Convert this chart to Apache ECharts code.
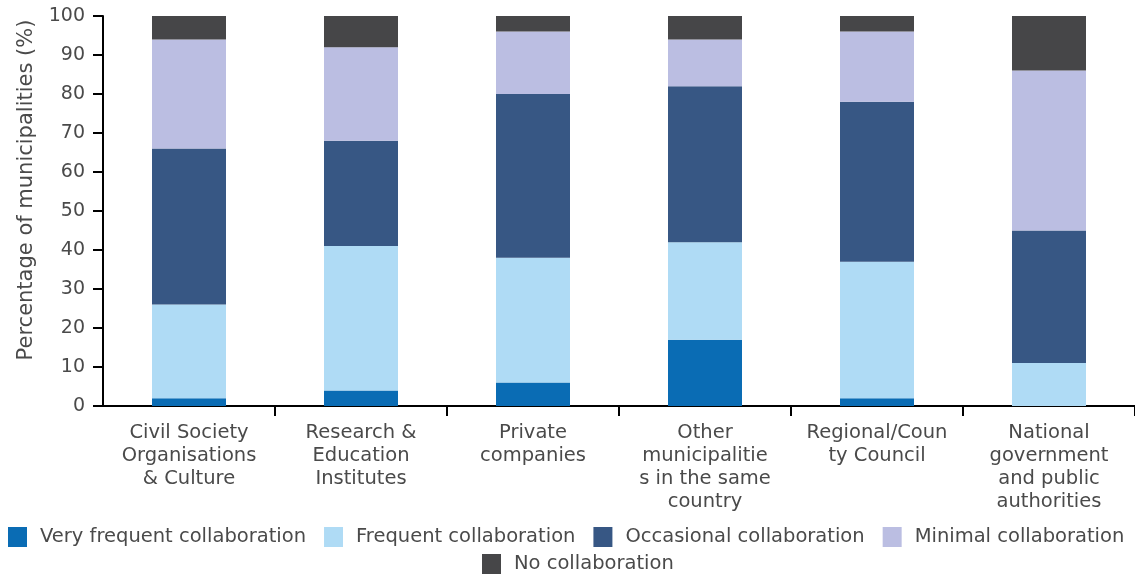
<!DOCTYPE html>
<html>
<head>
<meta charset="utf-8">
<script src="https://cdn.jsdelivr.net/npm/echarts@6/dist/echarts.min.js"></script>
<style>html,body{margin:0;padding:0;background:#fff;}#chart{width:1135px;height:577px;}</style>
</head>
<body>
<div id="chart"></div>
<script>
const categories = ["Civil Society Organisations & Culture", "Research & Education Institutes", "Private companies", "Other municipalities in the same country", "Regional/County Council", "National government and public authorities"];
const categoryLabels = ["Civil Society\nOrganisations\n& Culture", "Research &\nEducation\nInstitutes", "Private\ncompanies", "Other\nmunicipalitie\ns in the same\ncountry", "Regional/Coun\nty Council", "National\ngovernment\nand public\nauthorities"];
const seriesNames = ["Very frequent collaboration", "Frequent collaboration", "Occasional collaboration", "Minimal collaboration", "No collaboration"];
const veryFrequent = [2, 4, 6, 17, 2, 0];
const frequent = [24, 37, 32, 25, 35, 11];
const occasional = [40, 27, 42, 40, 41, 34];
const minimal = [28, 24, 16, 12, 18, 41];
const noCollab = [6, 8, 4, 6, 4, 14];
const yTicks = [0, 10, 20, 30, 40, 50, 60, 70, 80, 90, 100];

const colors = ["#0a6cb4", "#afdbf5", "#375784", "#bbbee2", "#464648"];
const values = [veryFrequent, frequent, occasional, minimal, noCollab];
const FONT = "DejaVu Sans";
const TXT = "#4a4a4a";

const chart = echarts.init(document.getElementById('chart'), null, {renderer: 'canvas'});
const legendCommon = {
  orient: 'horizontal', itemWidth: 19, itemHeight: 20, itemGap: 18, padding: 0,
  icon: 'rect', selectedMode: false,
  textStyle: {fontFamily: FONT, fontSize: 19.5, color: TXT, padding: [0, 0, 0, 8]}
};
chart.setOption({
  animation: false,
  color: colors,
  grid: {left: 103, width: 1037, top: 16, bottom: 171, containLabel: false},
  legend: [
    Object.assign({}, legendCommon, {left: 8, width: 1127, top: 527, data: seriesNames.slice(0, 4)}),
    Object.assign({}, legendCommon, {left: 482, top: 554, data: seriesNames.slice(4)})
  ],
  xAxis: {
    type: 'category',
    data: categories,
    axisLine: {show: true, lineStyle: {color: '#000', width: 2}},
    axisTick: {show: true, length: 10, lineStyle: {color: '#000', width: 2}, interval: function (i) { return i > 0; }},
    axisLabel: {
      interval: 0, margin: 15, fontFamily: FONT, fontSize: 19.5, color: TXT, lineHeight: 23,
      formatter: function (v) { return categoryLabels[categories.indexOf(v)]; }
    }
  },
  yAxis: {
    type: 'value', min: yTicks[0], max: yTicks[yTicks.length - 1], interval: 10,
    name: 'Percentage of municipalities (%)', nameLocation: 'middle', nameGap: 66,
    nameTextStyle: {fontFamily: FONT, fontSize: 21, color: TXT, padding: [0, 0, 0, 42]},
    axisLine: {show: true, lineStyle: {color: '#000', width: 2}},
    axisTick: {show: true, length: 10, lineStyle: {color: '#000', width: 2}},
    splitLine: {show: false},
    axisLabel: {fontFamily: FONT, fontSize: 19, color: TXT, margin: 18}
  },
  series: seriesNames.map(function (n, k) {
    return {name: n, type: 'bar', stack: 'total', barWidth: 74, data: values[k], itemStyle: {color: colors[k]}};
  })
});
</script>
</body>
</html>
